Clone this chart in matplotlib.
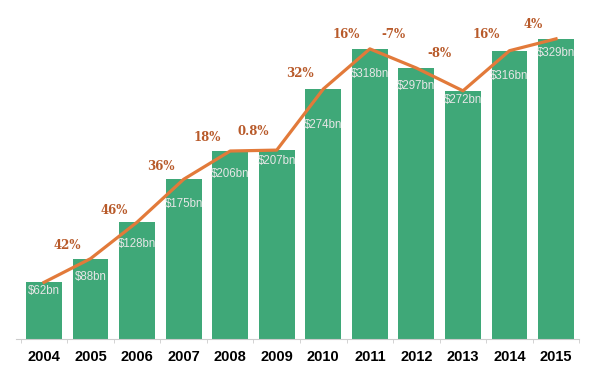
import numpy as np
import matplotlib.pyplot as plt

years = ["2004", "2005", "2006", "2007", "2008", "2009",
         "2010", "2011", "2012", "2013", "2014", "2015"]
revenue = [62, 88, 128, 175, 206, 207, 274, 318, 297, 272, 316, 329]
value_labels = ["$62bn", "$88bn", "$128bn", "$175bn", "$206bn", "$207bn",
                "$274bn", "$318bn", "$297bn", "$272bn", "$316bn", "$329bn"]
growth_labels = ["42%", "46%", "36%", "18%", "0.8%", "32%",
                 "16%", "-7%", "-8%", "16%", "4%"]

# hand-tuned label offsets (pixels), as in the original picture
value_dy = [9, 18, 22, 25, 23, 11, 36, 25, 18, 9, 25, 14]
growth_dy = [25, 30, 34, 28, 19, 46, 34, 24, 26, 36, 20]

green = "#3fa878"
orange = "#e27a3a"
brown = "#b85a2a"

fig = plt.figure(figsize=(6.0, 3.72), dpi=100)
ax = fig.add_axes([0.0, 0.089, 1.0, 0.911])

x = np.arange(len(years))
ax.bar(x, revenue, width=0.77, color=green, zorder=2)
ax.plot(x, revenue, color=orange, lw=2.3, zorder=3, solid_joinstyle="round")

for i, lab in enumerate(value_labels):
    ax.annotate(lab, (x[i], revenue[i]), xytext=(0, -value_dy[i] * 0.72),
                textcoords="offset points", ha="center", va="center",
                fontsize=8.3, color="#e6e6e6", zorder=4,
                family="Liberation Sans")

for i, lab in enumerate(growth_labels):
    xm = (x[i] + x[i + 1]) / 2
    ym = (revenue[i] + revenue[i + 1]) / 2
    ax.annotate(lab, (xm, ym), xytext=(0, growth_dy[i] * 0.72),
                textcoords="offset points", ha="center", va="center",
                fontsize=8.5, fontweight="bold", color=brown, zorder=4,
                family="DejaVu Serif")

# 0 sits at pixel 339 from the top, ~0.912 px per unit
px_per = 0.912
ax.set_ylim(0, 372 * 0.911 / px_per)
ax.set_xlim(x[0] - 44 / 46.55, x[0] + (600 - 44) / 46.55)

for s in ["top", "right", "left"]:
    ax.spines[s].set_visible(False)
ax.spines["bottom"].set_color("#cccccc")
ax.spines["bottom"].set_bounds(-0.6, 11.5)
ax.set_yticks([])
ax.set_xticks(x)
ax.set_xticklabels(years, fontsize=10.5, fontweight="bold",
                   family="Liberation Sans")
ax.set_xticks(np.arange(-0.5, 12, 1), minor=True)
ax.tick_params(axis="x", which="major", length=0, pad=8)
ax.tick_params(axis="x", which="minor", length=3, color="#cccccc")

fig.savefig("out.png", dpi=100)
